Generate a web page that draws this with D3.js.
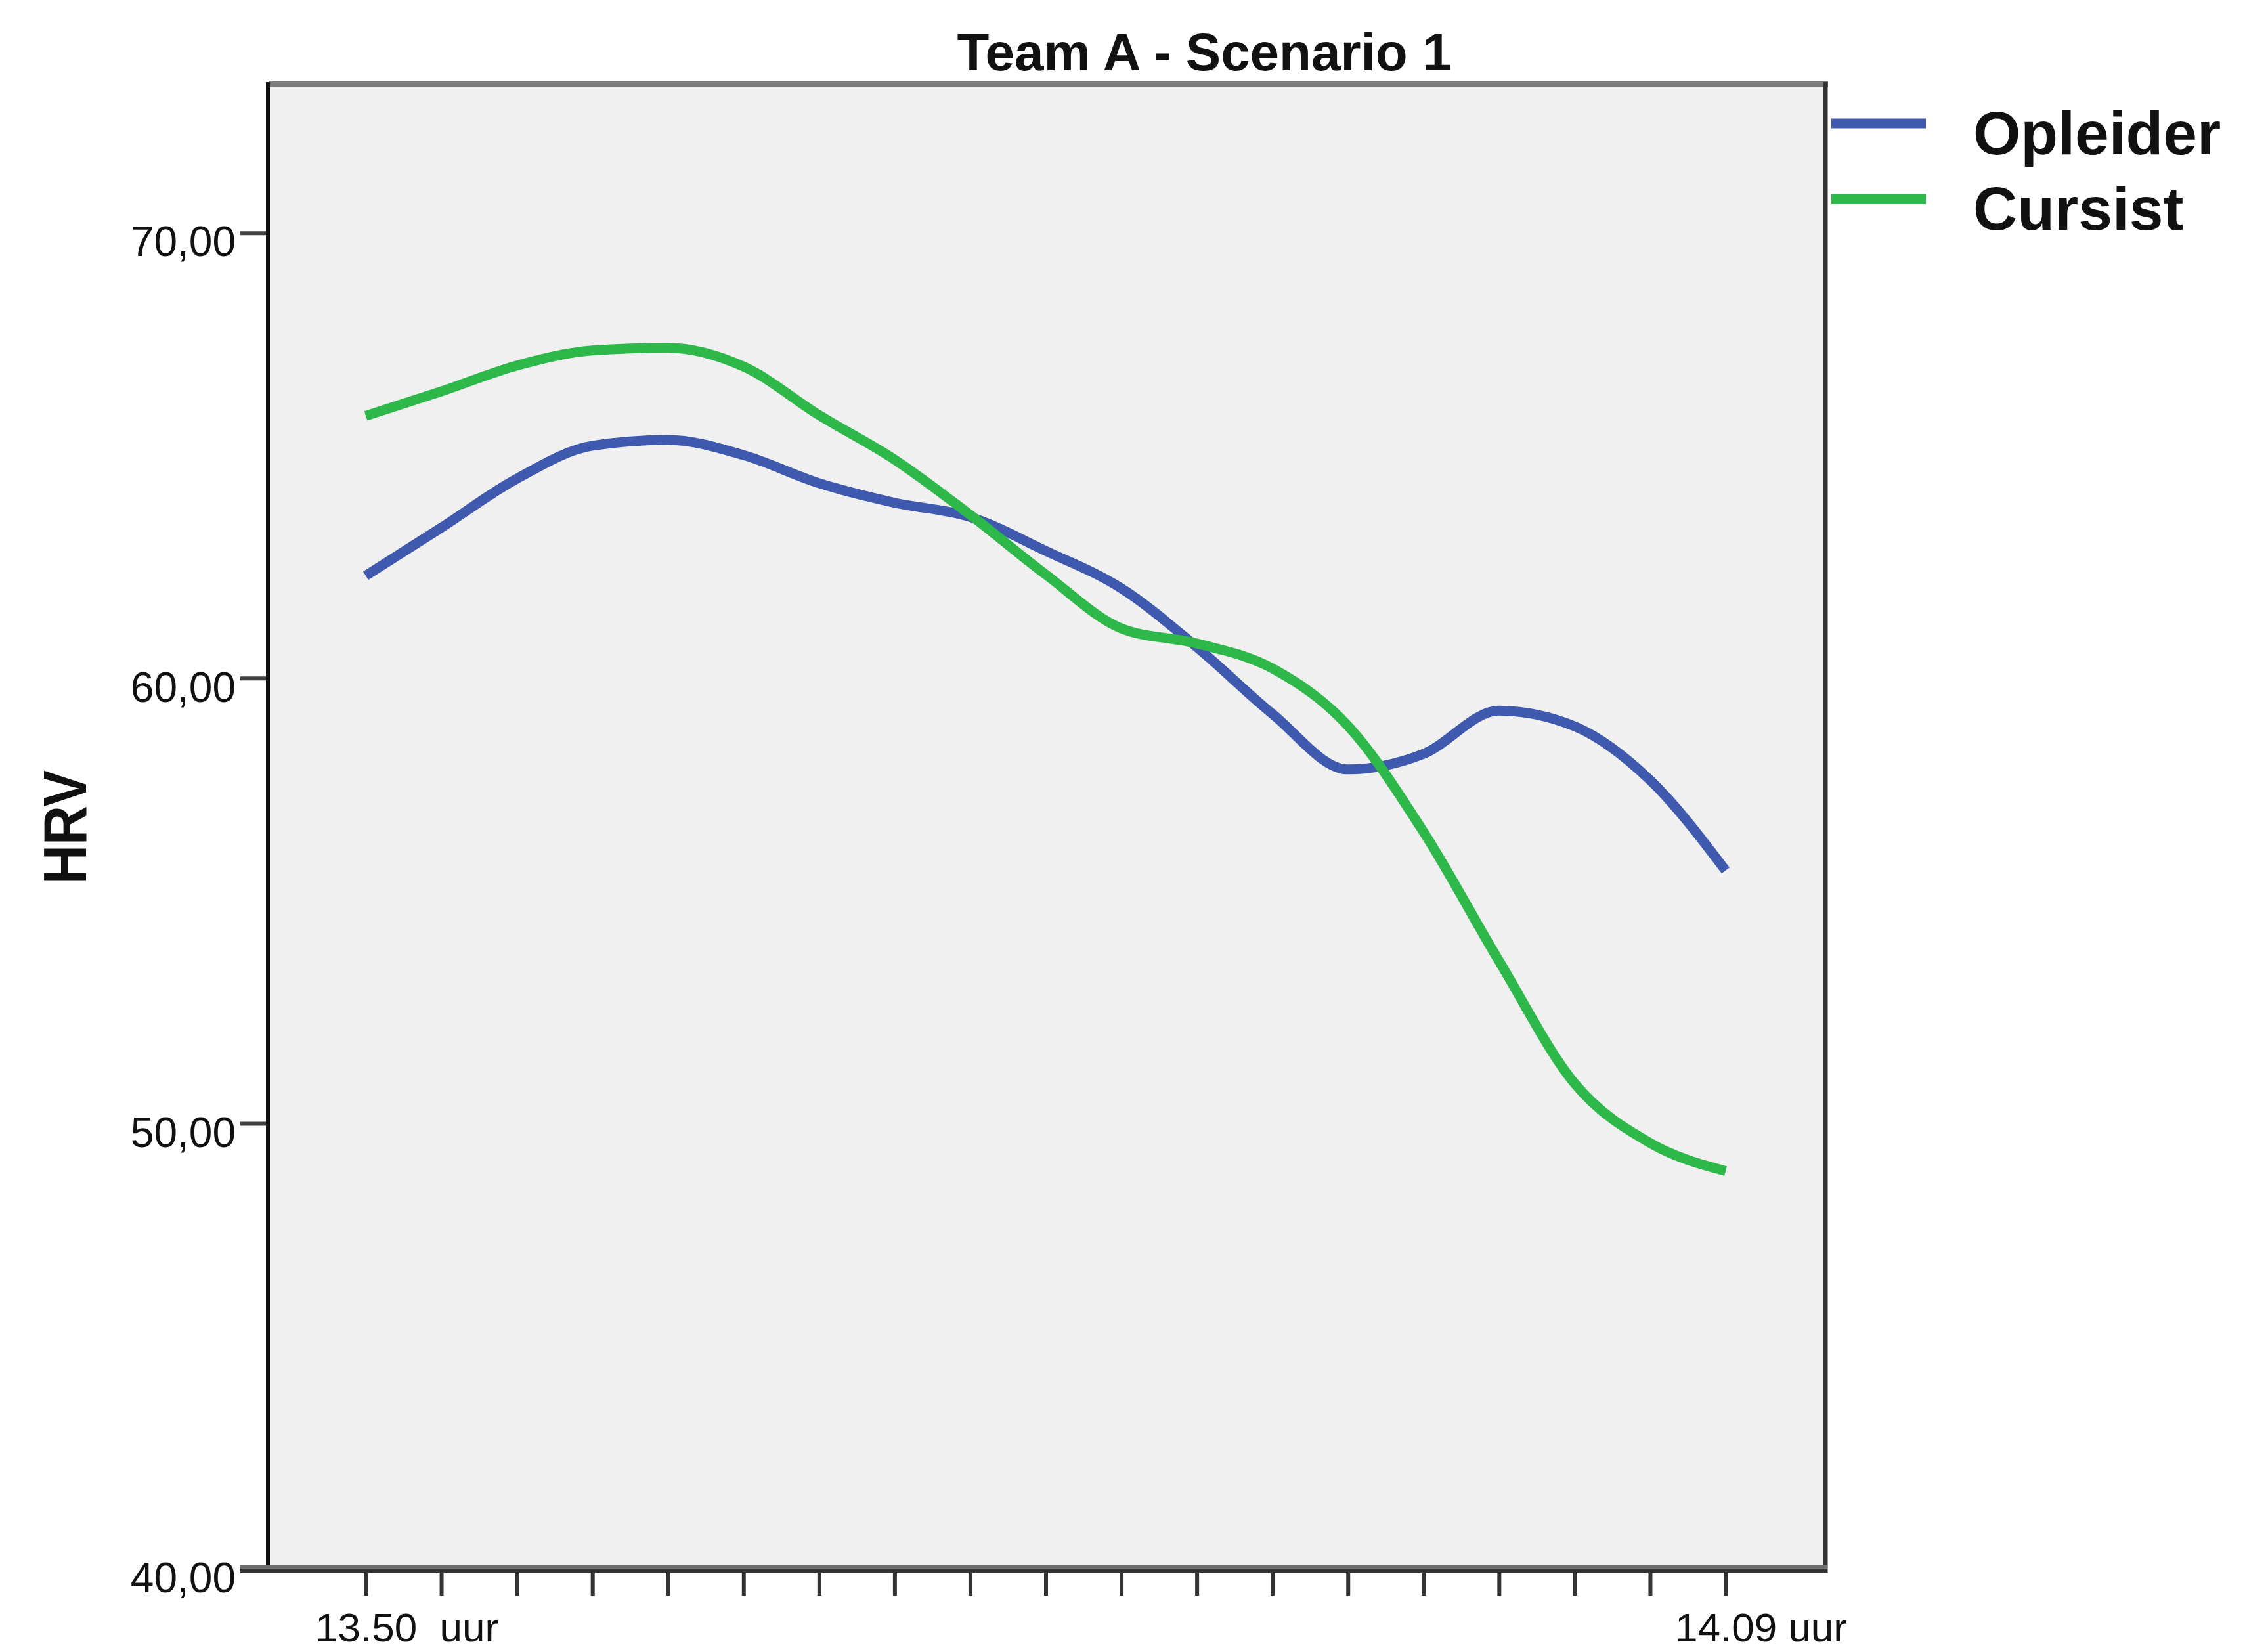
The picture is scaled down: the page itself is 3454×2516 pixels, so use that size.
<!DOCTYPE html>
<html>
<head>
<meta charset="utf-8">
<script src="https://cdn.jsdelivr.net/npm/d3@7"></script>
<style>
  html, body { margin: 0; padding: 0; background: #ffffff; }
  svg { display: block; }
  text { font-family: "Liberation Sans", Arial, sans-serif; }
</style>
</head>
<body>
<script>
// ---- data ----
const timePoints = d3.range(19); // 19 measurement moments, 13.50 -> 14.09
const xTickLabels = ["13.50  uur", "14.09 uur"]; // labels at first and last moment
const yTickValues = [40, 50, 60, 70];
const seriesNames = ["Opleider", "Cursist"];
const opleider = [62.30, 63.38, 64.48, 65.22, 65.35, 65.01, 64.38, 63.94, 63.62, 62.86,
                  62.02, 60.70, 59.20, 57.95, 58.30, 59.27, 58.92, 57.71, 55.68];
const cursist  = [65.89, 66.44, 67.02, 67.36, 67.42, 67.00, 65.91, 64.91, 63.67, 62.33,
                  61.12, 60.78, 60.22, 58.93, 56.55, 53.65, 50.90, 49.56, 48.93];
const seriesColors = ["#3e59ad", "#2eb84a"];
const title = "Team A - Scenario 1";
const yTitle = "HRV";

// ---- layout ----
const W = 3454, H = 2516;
const frame = { left: 409, right: 2780, top: 129, bottom: 2389 };

const svg = d3.select("body").append("svg")
  .attr("width", W).attr("height", H);

const x = d3.scalePoint().domain(timePoints).range([557, 2628]);
const y = d3.scaleLinear().domain([40, 73.33]).range([frame.bottom, frame.top]);

// plot background
svg.append("rect")
  .attr("x", frame.left).attr("y", frame.top)
  .attr("width", frame.right - frame.left).attr("height", frame.bottom - frame.top)
  .attr("fill", "#f0f0f0");

// top border (grey) and right border (dark)
svg.append("line").attr("x1", frame.left).attr("x2", frame.right + 4)
  .attr("y1", frame.top - 1).attr("y2", frame.top - 1)
  .attr("stroke", "#7d7d7d").attr("stroke-width", 10);
svg.append("line").attr("x1", frame.right).attr("x2", frame.right)
  .attr("y1", frame.top - 4).attr("y2", frame.bottom + 6)
  .attr("stroke", "#333333").attr("stroke-width", 7);

// lines
const line = d3.line()
  .x((d, i) => x(timePoints[i]))
  .y(d => y(d))
  .curve(d3.curveMonotoneX);

[opleider, cursist].forEach((s, k) => {
  svg.append("path")
    .datum(s)
    .attr("d", line)
    .attr("fill", "none")
    .attr("stroke", seriesColors[k])
    .attr("stroke-width", 15)
    .attr("stroke-linejoin", "round");
});

// y axis
const yAxis = d3.axisLeft(y)
  .tickValues(yTickValues)
  .tickSize(42)
  .tickPadding(6)
  .tickFormat(d => d3.format(".2f")(d).replace(".", ","));
const yg = svg.append("g").attr("transform", `translate(${frame.left - 2},0)`).call(yAxis);
yg.select(".domain").remove();
yg.selectAll(".tick line").attr("stroke", "#404040").attr("stroke-width", 6);
yg.selectAll(".tick text")
  .attr("font-size", 64)
  .attr("fill", "#111")
  .attr("dy", "0.55em")
  .attr("font-family", "'Liberation Sans', Arial, sans-serif");

// left axis line
svg.append("line").attr("x1", frame.left - 1).attr("x2", frame.left - 1)
  .attr("y1", frame.top - 4).attr("y2", frame.bottom)
  .attr("stroke", "#111").attr("stroke-width", 6);

// x axis
const xAxis = d3.axisBottom(x).tickSize(40).tickFormat("");
const xg = svg.append("g").attr("transform", `translate(0,${frame.bottom + 1})`).call(xAxis);
xg.select(".domain").remove();
xg.selectAll(".tick line").attr("stroke", "#333").attr("stroke-width", 6);

// bottom axis line (two-tone)
svg.append("line").attr("x1", frame.left - 43).attr("x2", frame.right + 3)
  .attr("y1", frame.bottom - 2).attr("y2", frame.bottom - 2)
  .attr("stroke", "#6f6f6f").attr("stroke-width", 6);
svg.append("line").attr("x1", frame.left - 43).attr("x2", frame.right + 3)
  .attr("y1", frame.bottom + 3).attr("y2", frame.bottom + 3)
  .attr("stroke", "#333333").attr("stroke-width", 6);

// x tick labels at first and last moment
[[timePoints[0], xTickLabels[0]], [timePoints[timePoints.length - 1], xTickLabels[1]]].forEach(([t, lab]) => {
  svg.append("text")
    .attr("x", x(t) - 77)
    .attr("y", 2500)
    .attr("font-size", 62)
    .attr("fill", "#111")
    .style("white-space", "pre")
    .text(lab);
});

// title
svg.append("text")
  .attr("x", 1834).attr("y", 107)
  .attr("text-anchor", "middle")
  .attr("font-size", 80).attr("font-weight", "bold")
  .attr("fill", "#111")
  .text(title);

// y title
svg.append("text")
  .attr("transform", "translate(131,1260) rotate(-90)")
  .attr("text-anchor", "middle")
  .attr("font-size", 93).attr("font-weight", "bold")
  .attr("textLength", 174).attr("lengthAdjust", "spacingAndGlyphs")
  .attr("fill", "#111")
  .text(yTitle);

// legend
const legendY = [188, 303];
seriesNames.forEach((name, k) => {
  svg.append("line")
    .attr("x1", 2789).attr("x2", 2933)
    .attr("y1", legendY[k]).attr("y2", legendY[k])
    .attr("stroke", seriesColors[k]).attr("stroke-width", 15);
  svg.append("text")
    .attr("x", 3005).attr("y", legendY[k] + 47)
    .attr("font-size", 93).attr("font-weight", "bold")
    .attr("fill", "#111")
    .text(name);
});
</script>
</body>
</html>
